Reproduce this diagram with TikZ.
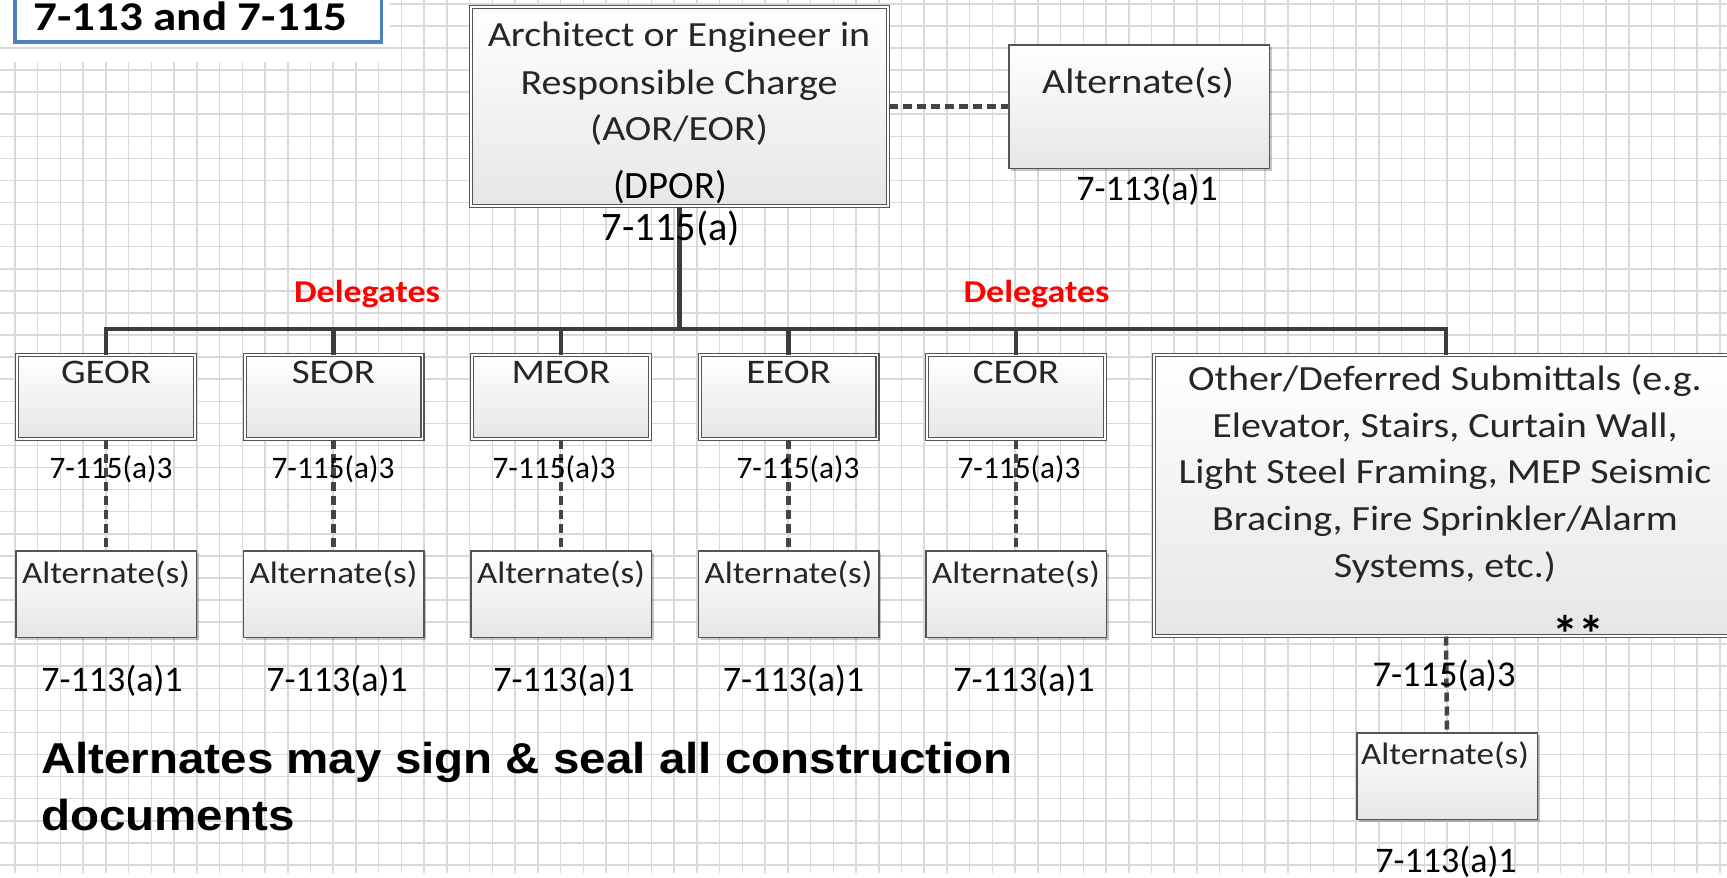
\documentclass[tikz,border=0pt]{standalone}
\usepackage{fontspec}
\setmainfont{Carlito}
\newfontfamily\boxfont{Carlito}[FakeStretch=1.13]
\newfontfamily\titlefont{Carlito}[FakeStretch=1.15]
\newfontfamily\notefont{Liberation Sans}[FakeStretch=1.1]
\usetikzlibrary{shadows}

\definecolor{gridc}{RGB}{217,217,217}
\definecolor{framec}{RGB}{85,85,85}
\definecolor{treec}{RGB}{60,60,60}
\definecolor{linkc}{RGB}{68,68,68}
\definecolor{boxtext}{RGB}{38,38,38}
\definecolor{shadec}{RGB}{230,230,230}
\definecolor{titleblue}{RGB}{79,129,189}
\definecolor{delred}{RGB}{255,0,0}

\newcommand\pxsize[1]{\fontsize{#1}{#1}\selectfont}

\tikzset{
  gridline/.style={draw=gridc, line width=1.5pt},
  boxshadow/.style={drop shadow={shadow xshift=2.5pt, shadow yshift=-2.5pt, opacity=0.22, fill=black}},
  rolebox/.style={draw=framec, line width=1.2pt, double=white, double distance=1.8pt,
    top color=white, bottom color=shadec, inner sep=0pt, boxshadow},
  altbox/.style={draw=framec, line width=1.5pt, top color=white, bottom color=shadec,
    inner sep=0pt, boxshadow},
  titlebox/.style={draw=titleblue, line width=3.5pt, fill=white, inner sep=0pt},
  boxtxt/.style={anchor=base, inner sep=0pt, text=boxtext},
  reftxt/.style={anchor=base, inner sep=0pt, text=black},
  tree/.style={draw=treec, line width=4.5pt},
  link/.style={draw=linkc, line width=4.5pt, dash pattern=on 9pt off 5pt},
  deleg/.style={anchor=base, inner sep=0pt, text=delred, font=\boxfont\bfseries\pxsize{31.8pt}},
}

\begin{document}
\begin{tikzpicture}[x=1pt,y=-1pt]
\useasboundingbox (0,0) rectangle (1727,878);
\clip (0,0) rectangle (1727,878);
\fill[white] (0,0) rectangle (1727,878);

% background grid
\foreach \i in {0,...,16} \draw[gridline] ({15+22.73*\i},62) -- ({15+22.73*\i},873);
\foreach \i in {17,...,75} \draw[gridline] ({15+22.73*\i},0) -- ({15+22.73*\i},873);
\foreach \j in {0,...,37} \draw[gridline] (0,{48+22.08*\j}) -- (1727,{48+22.08*\j});
\foreach \j in {1,2} \draw[gridline] (390,{48-22.08*\j}) -- (1727,{48-22.08*\j});

% heading
\node[titlebox, minimum width=366.5pt, minimum height=62.25pt] (title) at (198,11.1) {};
\node[anchor=base west, inner sep=0pt, font=\titlefont\bfseries\pxsize{40.9pt}] (title-t) at (33,30) {7-113 and 7-115};

% design professional in responsible charge
\node[rolebox, minimum width=416.8pt, minimum height=198.8pt] (aor) at (679.5,106.5) {};
\node[boxtxt, font=\boxfont\pxsize{35.4pt}] (aor-t1) at (679,46) {Architect or Engineer in};
\node[boxtxt, font=\boxfont\pxsize{35.4pt}] (aor-t2) at (679,94) {Responsible Charge};
\node[boxtxt, font=\boxfont\pxsize{35.4pt}] (aor-t3) at (679,140) {(AOR/EOR)};
\node[reftxt, font=\pxsize{38.7pt}] (aor-dpor) at (670,198) {(DPOR)};

% alternate of the AOR/EOR
\node[altbox, minimum width=260.5pt, minimum height=123.5pt] (aor-alt) at (1139,106.5) {};
\node[boxtxt, font=\boxfont\pxsize{35.4pt}] (aor-alt-t) at (1138,93) {Alternate(s)};
\node[reftxt, font=\pxsize{36pt}] (aor-alt-ref) at (1147,200) {7-113(a)1};
\draw[link] (aor.east) -- (aor-alt.west);

% delegated engineers of record
\coordinate (hub) at (679.5,329);
\foreach \n/\t/\cx/\ra/\rb in {geor/GEOR/106/111/112, seor/SEOR/333.5/333/337,
    meor/MEOR/561/554/564, eeor/EEOR/788.5/798/793.5, ceor/CEOR/1016/1019/1024} {
  \node[rolebox, minimum width=177.8pt, minimum height=83.8pt] (\n) at (\cx,397) {};
  \node[boxtxt, font=\boxfont\pxsize{34.5pt}] (\n-t) at (\cx,383) {\t};
  \node[altbox, minimum width=180.5pt, minimum height=86.5pt] (\n-alt) at (\cx,594) {};
  \node[boxtxt, font=\boxfont\pxsize{31pt}] (\n-alt-t) at (\cx,583) {Alternate(s)};
  \draw[link] (\n.south) -- (\n-alt.north);
  \node[reftxt, font=\pxsize{31.3pt}] (\n-ref) at (\ra,478) {7-115(a)3};
  \node[reftxt, font=\pxsize{36pt}] (\n-alt-ref) at (\rb,691) {7-113(a)1};
}

% other / deferred submittals
\node[rolebox, minimum width=583.8pt, minimum height=280.8pt] (oth) at (1446,495.5) {};
\node[boxtxt, font=\boxfont\pxsize{35.4pt}] (oth-t1) at (1445,390) {Other/Deferred Submittals (e.g.};
\node[boxtxt, font=\boxfont\pxsize{35.4pt}] (oth-t2) at (1445,437) {Elevator, Stairs, Curtain Wall,};
\node[boxtxt, font=\boxfont\pxsize{35.4pt}] (oth-t3) at (1445,483) {Light Steel Framing, MEP Seismic};
\node[boxtxt, font=\boxfont\pxsize{35.4pt}] (oth-t4) at (1445,530) {Bracing, Fire Sprinkler/Alarm};
\node[boxtxt, font=\boxfont\pxsize{35.4pt}] (oth-t5) at (1445,577) {Systems, etc.)};
\node[reftxt, font=\bfseries\pxsize{52pt}] (oth-star) at (1578,652) {**};
\node[altbox, minimum width=180.5pt, minimum height=86.5pt] (oth-alt) at (1447,776) {};
\node[boxtxt, font=\boxfont\pxsize{31pt}] (oth-alt-t) at (1445,764) {Alternate(s)};
\draw[link] (oth.south) -- (oth-alt.north);
\node[reftxt, font=\pxsize{36.4pt}] (oth-ref) at (1444,686) {7-115(a)3};
\node[reftxt, font=\pxsize{36pt}] (oth-alt-ref) at (1446,872) {7-113(a)1};

% delegation tree
\draw[tree] (aor.south) -- (hub);
\foreach \n in {geor,seor,meor,eeor,ceor,oth} \draw[tree] (hub) -| (\n.north);
\node[reftxt, font=\pxsize{40.4pt}] (aor-ref) at (671,240) {7-115(a)};
\node[deleg] (deleg-l) at (367,302) {Delegates};
\node[deleg] (deleg-r) at (1036.5,302) {Delegates};

% note
\node[anchor=base west, inner sep=0pt, font=\notefont\bfseries\pxsize{43.2pt}] (note1) at (41,773) {Alternates may sign \& seal all construction};
\node[anchor=base west, inner sep=0pt, font=\notefont\bfseries\pxsize{43.2pt}] (note2) at (41,830) {documents};
\end{tikzpicture}
\end{document}
